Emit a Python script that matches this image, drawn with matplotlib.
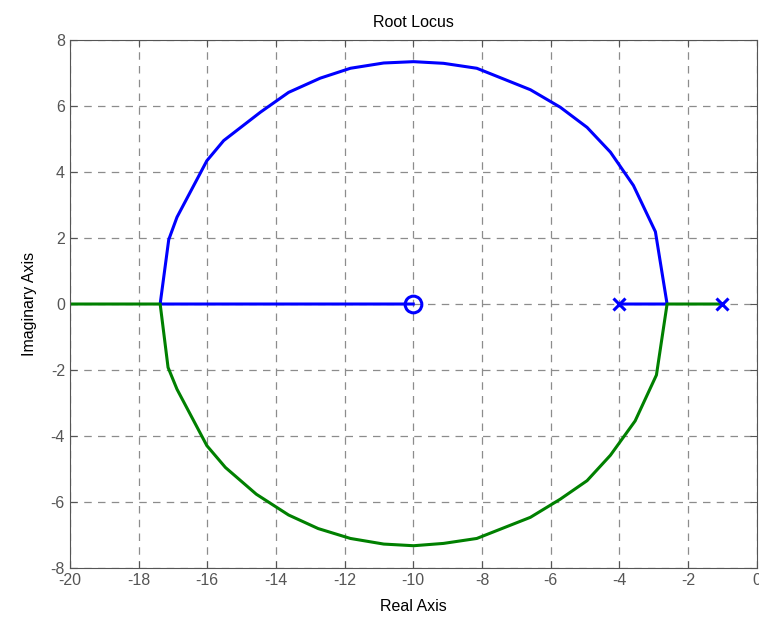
import matplotlib
matplotlib.use("Agg")
import matplotlib.pyplot as plt

plt.rcParams['font.family'] = ['Liberation Sans', 'DejaVu Sans']
plt.rcParams['axes.unicode_minus'] = False

# --- data ---
# upper branch (blue): breakaway -> arc -> break-in
upper_re = [-2.61, -2.95, -3.59, -4.26, -4.94, -5.72, -6.59, -8.15, -9.12, -9.99,
            -10.86, -11.83, -12.71, -13.63, -14.45, -15.52, -16.01, -16.88, -17.12, -17.37]
upper_im = [0.0, 2.19, 3.59, 4.60, 5.35, 5.96, 6.49, 7.14, 7.29, 7.34,
            7.30, 7.14, 6.84, 6.41, 5.81, 4.95, 4.34, 2.63, 1.95, 0.0]
# lower branch (green)
lower_re = [-2.61, -2.92, -3.54, -4.26, -4.94, -5.72, -6.59, -8.15, -9.12, -9.99,
            -10.86, -11.83, -12.77, -13.63, -14.57, -15.47, -16.01, -16.88, -17.14, -17.37]
lower_im = [0.0, -2.15, -3.54, -4.58, -5.35, -5.91, -6.46, -7.10, -7.25, -7.32,
            -7.27, -7.10, -6.80, -6.39, -5.76, -4.95, -4.29, -2.58, -1.92, 0.0]

poles = [-4.0, -1.0]
zeros = [-10.0]
breakaway = -2.61
x_left = -20.0

blue = '#0000ff'
green = '#008000'

fig = plt.figure(figsize=(7.59, 6.23), dpi=100)
ax = fig.add_axes([0.092, 0.088, 0.905, 0.848])

# blue branch: pole -4 -> breakaway, arc, break-in -> zero
ax.plot([poles[0], breakaway] + upper_re + [zeros[0]],
        [0, 0] + upper_im + [0], color=blue, lw=2.2)
# green branch: pole -1 -> breakaway, arc, break-in -> -inf
ax.plot([poles[1], breakaway] + lower_re + [x_left],
        [0, 0] + lower_im + [0], color=green, lw=2.2)

ax.plot(poles, [0] * len(poles), 'x', color=blue, ms=9, mew=2.2)
ax.plot(zeros, [0] * len(zeros), 'o', color=blue, ms=12, mew=2.2, mfc='none')

ax.set_xlim(-20, 0)
ax.set_ylim(-8, 8)
ax.set_xticks(range(-20, 1, 2))
ax.set_yticks(range(-8, 9, 2))
ax.grid(True, color='#8c8c8c', linestyle=(0, (6, 5)), lw=0.9)
ax.set_axisbelow(True)

for s in ax.spines.values():
    s.set_color('#555555')
ax.tick_params(direction='in', colors='#555555', labelsize=11.5, length=5,
               top=True, right=True)

ax.set_title("Root Locus", fontsize=11.5, pad=9)
ax.set_xlabel("Real Axis", fontsize=11.5, labelpad=8)
ax.set_ylabel("Imaginary Axis", fontsize=11.5, labelpad=10)

fig.savefig("out.png", dpi=100)
